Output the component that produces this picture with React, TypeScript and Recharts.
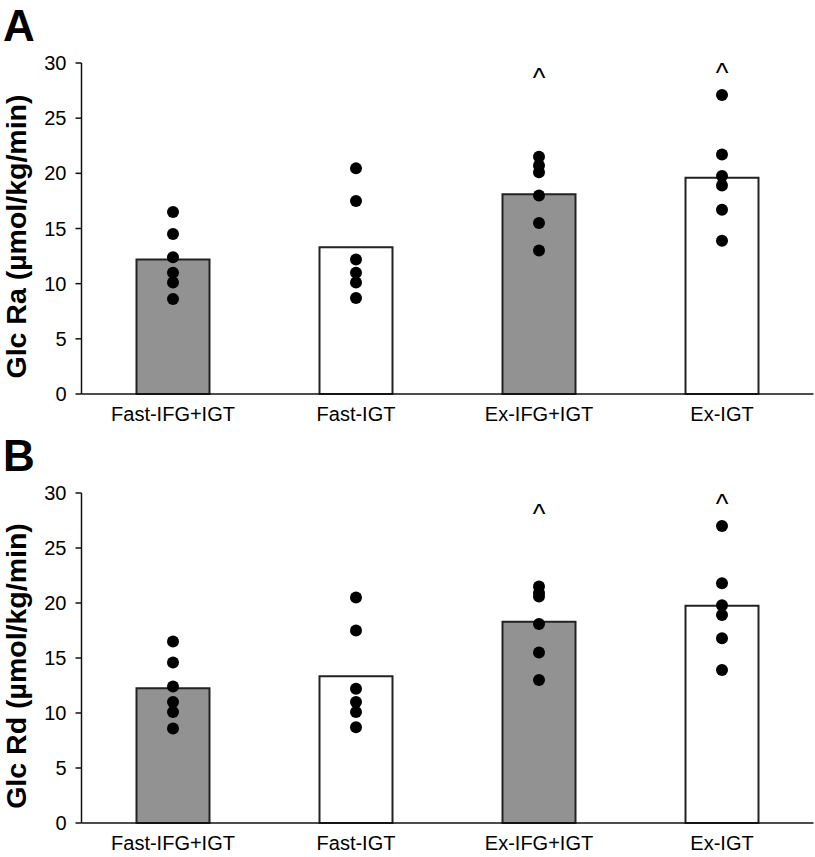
import { Bar, Cell, ComposedChart, Label, Scatter, XAxis, YAxis } from "recharts";

const categories = ["Fast-IFG+IGT", "Fast-IGT", "Ex-IFG+IGT", "Ex-IGT"];
const barFills = ["#929292", "#ffffff", "#929292", "#ffffff"];
const yTicks = [0, 5, 10, 15, 20, 25, 30];

// panel A: glucose Ra
const raMeans = [12.2, 13.3, 18.1, 19.6];
const raDots = [
  [16.5, 14.5, 12.4, 11.0, 10.1, 8.6],
  [20.45, 17.5, 12.2, 11.0, 10.1, 8.7],
  [21.5, 20.7, 20.1, 18.0, 15.5, 13.0],
  [27.1, 21.7, 19.75, 18.9, 16.7, 13.9],
];
const raCaret = [null, null, 29.0, 29.5];

// panel B: glucose Rd
const rdMeans = [12.25, 13.35, 18.3, 19.75];
const rdDots = [
  [16.5, 14.6, 12.4, 11.0, 10.1, 8.6],
  [20.5, 17.5, 12.2, 11.0, 10.1, 8.7],
  [21.5, 20.9, 20.6, 18.1, 15.5, 13.0],
  [27.0, 21.8, 19.8, 18.9, 16.8, 13.9],
];
const rdCaret = [null, null, 28.5, 29.4];

const FONT = "'Liberation Sans', Arial, Helvetica, sans-serif";
const INK = "#111";

function buildRows(means: number[], dots: number[][], caret: (number | null)[]) {
  return categories.map((name, i) => {
    const row: Record<string, any> = { name, mean: means[i], caret: caret[i] };
    dots[i].forEach((v, j) => {
      row[`d${j}`] = v;
    });
    return row;
  });
}

const dotShape = (p: any) => <circle cx={p.cx} cy={p.cy} r={6} fill="#000" />;

const caretShape = (p: any) => {
  if (p.payload?.caret == null) return <g />;
  return (
    <text x={p.cx} y={p.cy + 13} textAnchor="middle" fontSize={27} fontFamily={FONT} fill="#000">
      ^
    </text>
  );
};

function Panel({
  letter,
  yLabel,
  means,
  dots,
  caret,
  height,
  axisH,
}: {
  letter: string;
  yLabel: string;
  means: number[];
  dots: number[][];
  caret: (number | null)[];
  height: number;
  axisH: number;
}) {
  const data = buildRows(means, dots, caret);
  return (
    <div style={{ position: "relative", width: 815, height }}>
      <div
        style={{
          position: "absolute",
          left: 3,
          top: 2,
          fontFamily: FONT,
          fontWeight: "bold",
          fontSize: 44,
          lineHeight: "48px",
          color: "#000",
        }}
      >
        {letter}
      </div>
      <ComposedChart
        width={815}
        height={height}
        data={data}
        margin={{ top: 63, right: 1.5, left: 0, bottom: 0 }}
      >
        <XAxis
          dataKey="name"
          height={axisH}
          tickLine={false}
          tickSize={0}
          tickMargin={13}
          axisLine={{ stroke: INK, strokeWidth: 1.5 }}
          tick={{ fontSize: 20, fontFamily: FONT, fill: "#000" }}
          interval={0}
        />
        <YAxis
          width={81.5}
          domain={[0, 30]}
          ticks={yTicks}
          interval={0}
          tickSize={6}
          tickMargin={9}
          axisLine={{ stroke: INK, strokeWidth: 1.5 }}
          tickLine={{ stroke: INK, strokeWidth: 1.5 }}
          tick={{ fontSize: 20, fontFamily: FONT, fill: "#000" }}
        >
          <Label
            content={({ viewBox }: any) => {
              const cy = viewBox.y + viewBox.height / 2 + 8;
              return (
                <text
                  x={26}
                  y={cy}
                  transform={`rotate(-90 26 ${cy})`}
                  textAnchor="middle"
                  fontSize={28.5}
                  fontWeight="bold"
                  fontFamily={FONT}
                  fill="#000"
                >
                  {yLabel}
                </text>
              );
            }}
          />
        </YAxis>
        <Bar dataKey="mean" barSize={73} stroke="#222" strokeWidth={2} isAnimationActive={false}>
          {data.map((_, i) => (
            <Cell key={i} fill={barFills[i]} />
          ))}
        </Bar>
        {dots[0].map((_, j) => (
          <Scatter key={j} dataKey={`d${j}`} shape={dotShape} isAnimationActive={false} />
        ))}
        <Scatter dataKey="caret" shape={caretShape} isAnimationActive={false} />
      </ComposedChart>
    </div>
  );
}

export default function App() {
  return (
    <div style={{ position: "absolute", left: 0, top: 0, width: 815, height: 857, background: "#fff" }}>
      <Panel
        letter="A"
        yLabel="Glc Ra (µmol/kg/min)"
        means={raMeans}
        dots={raDots}
        caret={raCaret}
        height={430}
        axisH={36}
      />
      <Panel
        letter="B"
        yLabel="Glc Rd (µmol/kg/min)"
        means={rdMeans}
        dots={rdDots}
        caret={rdCaret}
        height={427}
        axisH={34}
      />
    </div>
  );
}
